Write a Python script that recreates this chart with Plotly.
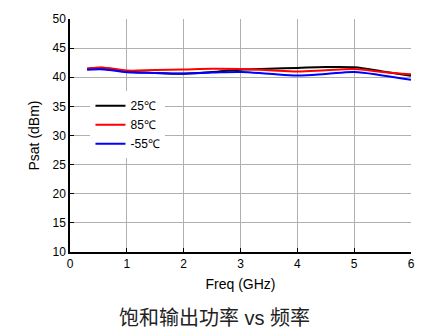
import plotly.graph_objects as go

freq = [0.3, 0.6, 1.0, 1.5, 2.0, 2.5, 3.0, 3.5, 4.0, 4.5, 5.0, 5.5, 6.0]
p25 = [41.45, 41.6, 41.0, 40.75, 40.6, 40.9, 41.3, 41.45, 41.6, 41.75, 41.7, 41.0, 40.25]
p85 = [41.45, 41.65, 41.15, 41.25, 41.35, 41.45, 41.4, 41.2, 41.0, 41.2, 41.4, 40.9, 40.5]
pm55 = [41.3, 41.35, 40.85, 40.75, 40.65, 40.8, 40.9, 40.6, 40.3, 40.55, 40.9, 40.3, 39.55]

fig = go.Figure()
for name, ys, col in [("25℃", p25, "black"), ("85℃", p85, "red"), ("-55℃", pm55, "blue")]:
    fig.add_trace(go.Scatter(x=freq, y=ys, mode="lines", name=name,
                             line=dict(color=col, width=2, shape="spline")))

fig.update_layout(
    width=429, height=334,
    margin=dict(l=70, r=18, t=19, b=82),
    paper_bgcolor="white", plot_bgcolor="white",
    font=dict(family="Liberation Sans, Arial", size=12, color="black"),
    showlegend=True,
    legend=dict(x=0.06, y=0.69, xanchor="left", yanchor="top",
                bgcolor="white", font=dict(size=12), tracegroupgap=0,
                itemwidth=30),
    xaxis=dict(range=[0, 6], dtick=1, showgrid=True, gridcolor="#b0b0b0",
               showline=True, linecolor="black", linewidth=1.5,
               ticks="inside", ticklen=4, tickcolor="black",
               title=dict(text="Freq (GHz)", standoff=9), zeroline=False),
    yaxis=dict(range=[10, 50], dtick=5, showgrid=True, gridcolor="#b0b0b0",
               showline=True, linecolor="black", linewidth=1.5,
               ticks="inside", ticklen=4, tickcolor="black",
               title=dict(text="Psat (dBm)", standoff=10), zeroline=False),
    annotations=[dict(text="饱和输出功率 vs 频率", x=0.425, y=-0.283, xref="paper", yref="paper",
                      showarrow=False, xanchor="center", yanchor="middle",
                      font=dict(family="Liberation Sans, Noto Sans CJK SC", size=20, color="#222"))],
)
fig.write_html("out.html")
